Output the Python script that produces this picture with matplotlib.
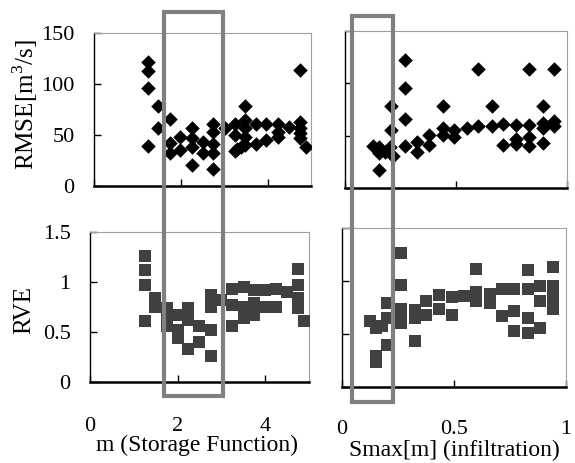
import matplotlib
matplotlib.use("Agg")
import matplotlib.pyplot as plt
from matplotlib.patches import Rectangle

plt.rcParams['font.family'] = ['Liberation Serif', 'DejaVu Serif']
plt.rcParams['mathtext.fontset'] = 'custom'
plt.rcParams['mathtext.rm'] = 'Liberation Serif'

# RMSE vs m (Storage Function)
m_rmse = [1.25, 1.25, 1.25, 1.48, 1.75, 1.48, 1.25, 1.75, 1.75, 1.98, 1.98,
          2.25, 2.25, 2.25, 2.25, 2.51, 2.51, 2.74, 2.74, 2.74, 2.74, 2.74,
          3.01, 3.24, 3.24, 3.24, 3.3, 3.38, 3.47, 3.47, 3.47, 3.47, 3.47,
          3.74, 3.74, 3.97, 3.97, 4.24, 4.24, 4.24, 4.5, 4.74, 4.74, 4.74,
          4.74, 4.74, 4.89]
rmse_m = [122, 113, 96, 78, 66, 57, 39.5, 42, 32, 48, 35,
          57, 47, 38, 21, 43, 32, 61, 53, 41, 32, 17,
          57, 61, 50, 34, 36, 38, 78, 65, 57, 48, 40,
          61, 41, 61, 45, 61, 53, 48, 58, 114, 63, 57,
          52, 47, 38]

# RMSE vs Smax (infiltration)
s_rmse = [0.128, 0.155, 0.155, 0.155, 0.18, 0.203, 0.207, 0.207, 0.218,
          0.27, 0.27, 0.27, 0.27, 0.326, 0.326, 0.38, 0.38, 0.44, 0.44, 0.44,
          0.49, 0.49, 0.55, 0.6, 0.6, 0.66, 0.66, 0.71, 0.71, 0.77, 0.77, 0.77,
          0.83, 0.83, 0.83, 0.83, 0.89, 0.89, 0.89, 0.89, 0.94, 0.94, 0.94]
rmse_s = [40, 39, 33, 17, 34, 39, 78, 55, 31,
          122, 96, 66, 40, 44, 34, 51, 41, 78, 57, 51,
          55.5, 49, 57, 114, 59, 78, 59, 61, 41, 60, 47, 42,
          114, 60, 49, 40, 78, 62, 57, 43, 114, 64, 59]

# RVE vs m
m_rve = [1.25, 1.25, 1.25, 1.25, 1.48, 1.48, 1.76, 1.76, 1.76, 2.0, 2.0, 2.0,
         2.24, 2.24, 2.24, 2.49, 2.49, 2.76, 2.76, 2.76, 2.76, 2.99,
         3.25, 3.25, 3.25, 3.52, 3.52, 3.52, 3.75, 3.75, 3.75, 4.0, 4.0,
         4.24, 4.24, 4.5, 4.74, 4.74, 4.74, 4.74, 4.89]
rve_m = [1.26, 1.12, 0.97, 0.61, 0.84, 0.75, 0.74, 0.67, 0.56, 0.67, 0.52, 0.44,
         0.74, 0.62, 0.33, 0.56, 0.40, 0.87, 0.75, 0.52, 0.26, 0.82,
         0.93, 0.77, 0.56, 0.95, 0.75, 0.64, 0.92, 0.79, 0.67, 0.92, 0.75,
         0.93, 0.75, 0.90, 1.13, 0.97, 0.84, 0.74, 0.61]

# RVE vs Smax
s_rve = [0.124, 0.153, 0.153, 0.153, 0.18, 0.2, 0.2, 0.2,
         0.265, 0.265, 0.265, 0.265, 0.265, 0.324, 0.324, 0.324,
         0.376, 0.376, 0.433, 0.433, 0.49, 0.49, 0.545, 0.6, 0.6, 0.6,
         0.66, 0.66, 0.716, 0.716, 0.77, 0.77, 0.77, 0.83, 0.83, 0.83, 0.83,
         0.885, 0.885, 0.885, 0.94, 0.94, 0.94, 0.94]
rve_s = [0.62, 0.56, 0.29, 0.24, 0.58, 0.79, 0.65, 0.40,
         1.26, 0.96, 0.74, 0.67, 0.60, 0.73, 0.65, 0.43,
         0.81, 0.68, 0.87, 0.74, 0.85, 0.68, 0.86, 1.11, 0.90, 0.81,
         0.88, 0.79, 0.92, 0.67, 0.92, 0.72, 0.53, 1.10, 0.92, 0.65, 0.51,
         0.95, 0.81, 0.56, 1.13, 0.95, 0.85, 0.74]

W, H = 575, 463
FS = 16   # tick labels
LFS = 17  # axis labels
fig = plt.figure(figsize=(W / 100, H / 100), dpi=100)


def px_axes(l, r, t, b):
    return fig.add_axes([l / W, 1 - b / H, (r - l) / W, (b - t) / H])


def style(ax, xpad):
    for side in ('top', 'right'):
        ax.spines[side].set_color('#a0a0a0')
        ax.spines[side].set_linewidth(0.8)
    ax.spines['left'].set_linewidth(1.0)
    ax.spines['bottom'].set_linewidth(1.8)
    ax.tick_params(direction='in', length=5, width=1.0, labelsize=FS)
    ax.tick_params(axis='x', pad=xpad)
    ax.tick_params(axis='y', pad=14)


ax1 = px_axes(94, 311, 33, 186)
ax2 = px_axes(345, 567, 31, 188)
ax3 = px_axes(90, 309, 232, 382)
ax4 = px_axes(342, 566, 228, 387)

ax1.scatter(m_rmse, rmse_m, marker='D', s=55, color='black', linewidths=0, zorder=3)
ax2.scatter(s_rmse, rmse_s, marker='D', s=55, color='black', linewidths=0, zorder=3)
ax3.scatter(m_rve, rve_m, marker='s', s=70, color='#404040', linewidths=0, zorder=3)
ax4.scatter(s_rve, rve_s, marker='s', s=70, color='#404040', linewidths=0, zorder=3)

for ax in (ax1, ax3):
    ax.set_xlim(0, 5)
    ax.set_xticks([0, 2, 4])
for ax in (ax2, ax4):
    ax.set_xlim(0, 1)
    ax.set_xticks([0, 0.5, 1])
    ax.set_xticklabels(['0', '0.5', '1'])
for ax in (ax1, ax2):
    ax.set_ylim(0, 150)
    ax.set_yticks([0, 50, 100, 150])
for ax in (ax3, ax4):
    ax.set_ylim(0, 1.5)
    ax.set_yticks([0, 0.5, 1, 1.5])
    ax.set_yticklabels(['0', '0.5', '1', '1.5'])

style(ax1, 20)
style(ax2, 20)
style(ax3, 25)
style(ax4, 24)

ax1.tick_params(axis='x', labelbottom=False)
ax2.tick_params(axis='x', labelbottom=False)
ax2.tick_params(axis='y', labelleft=False)
ax4.tick_params(axis='y', labelleft=False)

ax1.set_ylabel(r'RMSE[m$^3$/s]', fontsize=18)
ax1.yaxis.set_label_coords(-0.25, 0.53)
ax3.set_ylabel('RVE', fontsize=18)
ax3.yaxis.set_label_coords(-0.25, 0.48)
ax3.set_xlabel('m (Storage Function)', fontsize=LFS)
ax3.xaxis.set_label_coords(0.49, -0.35)
ax4.set_xlabel('Smax[m] (infiltration)', fontsize=LFS)
ax4.xaxis.set_label_coords(0.5, -0.33)

# highlight boxes spanning both rows (figure pixel coordinates)
for l, r, t, b in [(164, 223, 12, 396), (352, 393, 16, 402)]:
    fig.patches.append(Rectangle((l / W, 1 - b / H), (r - l) / W, (b - t) / H,
                                 transform=fig.transFigure, fill=False,
                                 edgecolor='#808080', linewidth=3, zorder=10))

fig.savefig('out.png', dpi=100)
